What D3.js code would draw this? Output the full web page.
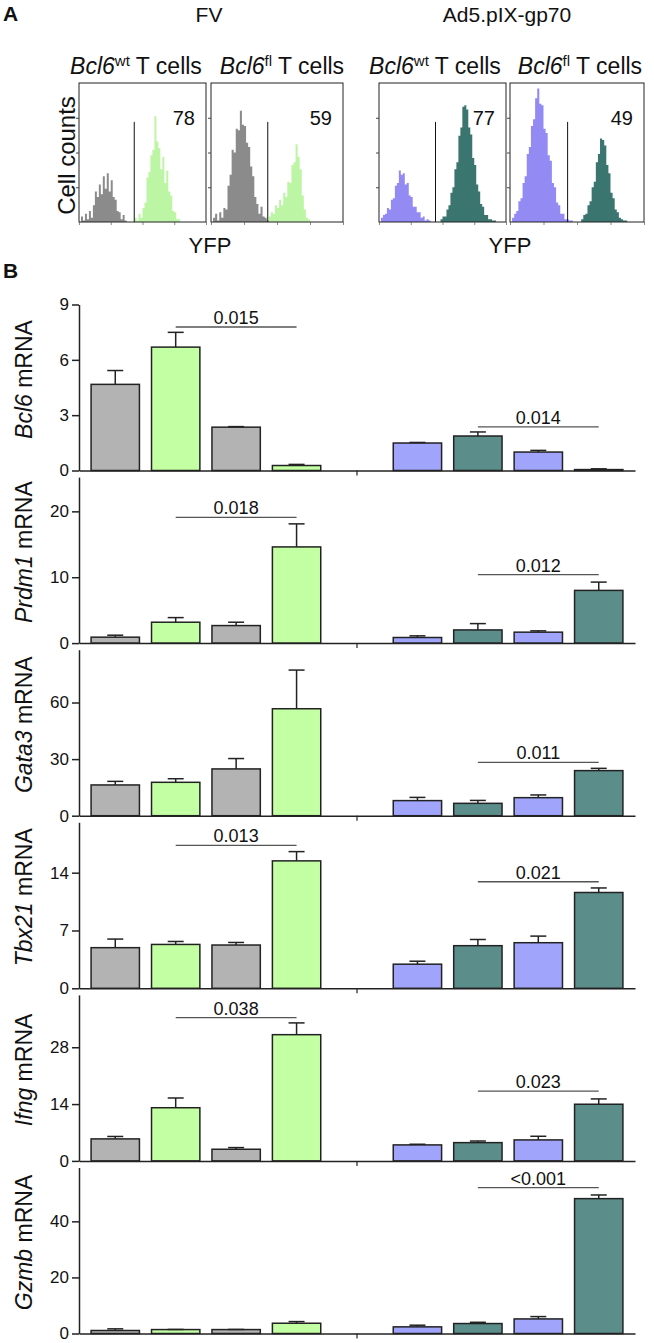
<!DOCTYPE html>
<html><head><meta charset="utf-8">
<script src="https://cdn.jsdelivr.net/npm/d3@7"></script>
<style>body{margin:0;background:#fff} text{font-family:"Liberation Sans",Arial,Helvetica,sans-serif;fill:#111}</style>
</head><body><svg id="c" width="654" height="1343"></svg>
<script>
// ---------------- DATA ----------------
const slots = ["FV wt YFP-","FV wt YFP+","FV fl YFP-","FV fl YFP+","gap","Ad wt YFP-","Ad wt YFP+","Ad fl YFP-","Ad fl YFP+"];
const slotGroup = ["fvNeg","fvPos","fvNeg","fvPos",null,"adNeg","adPos","adNeg","adPos"];
const genes = ["Bcl6","Prdm1","Gata3","Tbx21","Ifng","Gzmb"];
const yMax = [9, 25.2, 88, 20.1, 40.9, 59.2];
const yTicks = [[0,3,6,9],[0,10,20],[0,30,60],[0,7,14],[0,14,28],[0,20,40]];

const meanBcl6  = [4.67, 6.69, 2.35, 0.27, null, 1.49, 1.87, 1.00, 0.05];
const semBcl6   = [0.75, 0.80, 0.03, 0.06, null, 0.03, 0.22, 0.09, 0.04];
const meanPrdm1 = [0.90, 3.17, 2.66, 14.6, null, 0.85, 2.00, 1.66, 8.00];
const semPrdm1  = [0.30, 0.70, 0.51, 3.50, null, 0.25, 0.96, 0.20, 1.26];
const meanGata3 = [16.3, 17.7, 24.8, 56.7, null, 8.00, 6.55, 9.56, 23.9];
const semGata3  = [1.90, 1.90, 5.50, 20.5, null, 1.70, 1.55, 1.44, 1.20];
const meanTbx21 = [4.92, 5.31, 5.24, 15.43, null, 2.92, 5.16, 5.52, 11.6];
const semTbx21  = [1.04, 0.36, 0.31, 1.12, null, 0.36, 0.75, 0.80, 0.55];
const meanIfng  = [5.42, 13.1, 2.87, 31.1, null, 3.94, 4.50, 5.17, 13.96];
const semIfng   = [0.60, 2.40, 0.41, 2.90, null, 0.16, 0.40, 0.90, 1.31];
const meanGzmb  = [1.07, 1.40, 1.40, 3.66, null, 2.37, 3.55, 5.20, 48.1];
const semGzmb   = [0.59, 0.05, 0.05, 0.59, null, 0.59, 0.45, 0.83, 1.30];

const pBcl6  = [{a:1,b:3,y:7.78,t:"0.015"},{a:6,b:8,y:2.36,t:"0.014"}];
const pPrdm1 = [{a:1,b:3,y:19.1,t:"0.018"},{a:6,b:8,y:10.4,t:"0.012"}];
const pGata3 = [{a:6,b:8,y:28.3,t:"0.011"}];
const pTbx21 = [{a:1,b:3,y:17.3,t:"0.013"},{a:6,b:8,y:12.9,t:"0.021"}];
const pIfng  = [{a:1,b:3,y:35.3,t:"0.038"},{a:6,b:8,y:17.2,t:"0.023"}];
const pGzmb  = [{a:6,b:8,y:52.0,t:"<0.001"}];

// Panel A histograms: bin index start + relative counts (0-100) on a 64-bin log-YFP grid
const histTitles = ["wt","fl","wt","fl"];
const histPct = ["78","59","77","49"];
const hFvWtNegStart = 1;
const hFvWtNeg = [4,1,6,2,8,3,12,22,18,27,20,33,24,35,22,30,18,16,8,7,2,5,1];
const hFvWtPosStart = 28;
const hFvWtPos = [3,1,6,3,10,14,32,36,48,52,76,58,53,38,47,28,37,22,19,8,7,2,2];
const hFvFlNegStart = 1;
const hFvFlNeg = [3,6,1,7,3,10,9,26,34,52,50,67,66,80,70,69,57,54,40,33,18,13,6,11,4,3,1];
const hFvFlPosStart = 28;
const hFvFlPos = [4,7,6,12,10,16,12,21,18,29,28,41,43,56,47,38,19,9,3,2];
const hAdWtNegStart = 1;
const hAdWtNeg = [3,5,6,10,9,16,17,26,28,37,34,35,27,28,19,18,11,11,7,7,3,4,1,2,1];
const hAdWtPosStart = 31;
const hAdWtPos = [2,4,4,9,12,21,25,38,43,62,68,83,84,81,68,63,46,41,27,22,13,11,5,5,2,2,1,1];
const hAdFlNegStart = 1;
const hAdFlNeg = [3,6,8,15,17,28,33,49,54,69,74,89,96,85,84,67,64,48,44,28,25,14,12,6,6,2,2,1,1];
const hAdFlPosStart = 34;
const hAdFlPos = [2,5,6,12,15,25,29,43,49,60,59,55,41,35,21,17,9,7,3,2,1,1];

// ---------------- DRAW ----------------
const svg = d3.select("#c");
const colors = {fvNeg:"#b3b3b3", fvPos:"#c3ffa3", adNeg:"#a0a5fb", adPos:"#5b8e8a"};
const histColors = {fvNeg:"#858585", fvPos:"#b8f5a0", adNeg:"#8d84f2", adPos:"#2f6e68"};

// panel labels
svg.append("text").attr("x",3).attr("y",21).attr("font-size",21).attr("font-weight","bold").text("A");
svg.append("text").attr("x",3).attr("y",278).attr("font-size",21).attr("font-weight","bold").text("B");

// ---- Panel A ----
const boxes = [
  {x0:79, x1:206, tx:136, neg:hFvWtNeg, negS:hFvWtNegStart, pos:hFvWtPos, posS:hFvWtPosStart, nc:"fvNeg", pc:"fvPos", gate:0.435},
  {x0:211, x1:343, tx:282, neg:hFvFlNeg, negS:hFvFlNegStart, pos:hFvFlPos, posS:hFvFlPosStart, nc:"fvNeg", pc:"fvPos", gate:0.43},
  {x0:379, x1:506, tx:435, neg:hAdWtNeg, negS:hAdWtNegStart, pos:hAdWtPos, posS:hAdWtPosStart, nc:"adNeg", pc:"adPos", gate:0.445},
  {x0:510, x1:644, tx:580, neg:hAdFlNeg, negS:hAdFlNegStart, pos:hAdFlPos, posS:hAdFlPosStart, nc:"adNeg", pc:"adPos", gate:0.43}
];
const bTop = 83, bBot = 222;
svg.append("text").attr("x",209).attr("y",22).attr("font-size",21).attr("text-anchor","middle").text("FV");
svg.append("text").attr("x",507).attr("y",22).attr("font-size",21).attr("text-anchor","middle").text("Ad5.pIX-gp70");
[210,510].forEach(cx => svg.append("text").attr("x",cx).attr("y",253).attr("font-size",22).attr("text-anchor","middle").text("YFP"));
svg.append("text").attr("transform",`translate(75,${(bTop+bBot)/2+3}) rotate(-90)`).attr("font-size",24).attr("text-anchor","middle").text("Cell counts");

boxes.forEach((b,i) => {
  const g = svg.append("g");
  const xs = d3.scaleLinear().domain([0,64]).range([b.x0,b.x1]);
  const ys = d3.scaleLinear().domain([0,100]).range([bBot,bTop]);
  const area = d3.area().curve(d3.curveStepAfter).x(d=>xs(d[0])).y0(ys(0)).y1(d=>ys(d[1]));
  [[b.neg,b.negS,b.nc],[b.pos,b.posS,b.pc]].forEach(([arr,s,c]) => {
    const pts = arr.map((v,k)=>[s+k,v]); pts.push([s+arr.length,0]);
    g.append("path").attr("d",area(pts)).attr("fill",histColors[c]).attr("opacity",0.95);
  });
  g.append("rect").attr("x",b.x0).attr("y",bTop).attr("width",b.x1-b.x0).attr("height",bBot-bTop)
    .attr("fill","none").attr("stroke","#222").attr("stroke-width",1);
  g.append("g").attr("transform",`translate(${b.x0},0)`)
    .call(d3.axisLeft(ys).tickValues([25,50,75]).tickSize(3).tickFormat(""))
    .call(s=>{s.select(".domain").remove(); s.selectAll("line").attr("stroke","#444");});
  const xl = d3.scaleLog().domain([1,1e4]).range([b.x0,b.x1]);
  g.append("g").attr("transform",`translate(0,${bBot})`)
    .call(d3.axisBottom(xl).ticks(4).tickSize(3).tickFormat(""))
    .call(s=>{s.select(".domain").remove(); s.selectAll("line").attr("stroke","#555").attr("stroke-width",0.7);});
  const gx = b.x0 + b.gate*(b.x1-b.x0);
  g.append("line").attr("x1",gx).attr("x2",gx).attr("y1",ys(72)).attr("y2",bBot).attr("stroke","#111").attr("stroke-width",1);
  g.append("text").attr("x",b.x1-11).attr("y",125).attr("font-size",20).attr("text-anchor","end").text(histPct[i]);
  const t = svg.append("text").attr("x",b.tx).attr("y",74).attr("font-size",23).attr("text-anchor","middle");
  t.append("tspan").attr("font-style","italic").text("Bcl6");
  t.append("tspan").attr("font-size",15).attr("dy",-8).text(histTitles[i]);
  t.append("tspan").attr("dy",8).text(" T cells");
});

// ---- Panel B ----
const means = [meanBcl6,meanPrdm1,meanGata3,meanTbx21,meanIfng,meanGzmb];
const sems  = [semBcl6,semPrdm1,semGata3,semTbx21,semIfng,semGzmb];
const pvals = [pBcl6,pPrdm1,pGata3,pTbx21,pIfng,pGzmb];
const x = d3.scaleBand().domain(slots).range([79,635]).padding(0.2);
const panelTop0 = 304.5, panelStep = 172.6, panelH = 166;

genes.forEach((gene,gi) => {
  const top = panelTop0 + gi*panelStep, zero = top + panelH;
  const y = d3.scaleLinear().domain([0,yMax[gi]]).range([zero,top]);
  const g = svg.append("g");
  slots.forEach((s,i) => {
    const m = means[gi][i]; if (m==null) return;
    g.append("rect").attr("x",x(s)).attr("y",y(m)).attr("width",x.bandwidth()).attr("height",y(0)-y(m))
      .attr("fill",colors[slotGroup[i]]).attr("stroke","#222").attr("stroke-width",1.5);
    const cx = x(s)+x.bandwidth()/2, e = m + sems[gi][i];
    g.append("line").attr("x1",cx).attr("x2",cx).attr("y1",y(m)).attr("y2",y(e)).attr("stroke","#222").attr("stroke-width",1.5);
    g.append("line").attr("x1",cx-8).attr("x2",cx+8).attr("y1",y(e)).attr("y2",y(e)).attr("stroke","#222").attr("stroke-width",1.5);
  });
  g.append("g").attr("transform","translate(79,0)")
    .call(d3.axisLeft(y).tickValues(yTicks[gi]).tickSize(7).tickSizeOuter(0).tickPadding(3))
    .call(s=>{s.select(".domain").attr("stroke","#222").attr("stroke-width",1.5);
              s.selectAll("line").attr("stroke","#222").attr("stroke-width",1.5);
              s.selectAll("text").attr("font-size",17).attr("font-family","Liberation Sans, Arial, sans-serif").attr("fill","#111");});
  g.append("g").attr("transform",`translate(0,${zero})`)
    .call(d3.axisBottom(x).tickValues(["gap"]).tickSize(5).tickSizeOuter(0).tickFormat(""))
    .call(s=>{s.select(".domain").attr("stroke","#222").attr("stroke-width",1.5);
              s.selectAll("line").attr("stroke","#222").attr("stroke-width",1.2);});
  pvals[gi].forEach(p => {
    const xa = x(slots[p.a])+x.bandwidth()/2, xb = x(slots[p.b])+x.bandwidth()/2;
    g.append("line").attr("x1",xa).attr("x2",xb).attr("y1",y(p.y)).attr("y2",y(p.y)).attr("stroke","#555").attr("stroke-width",1.3);
    g.append("text").attr("x",(xa+xb)/2).attr("y",y(p.y)-3).attr("font-size",18).attr("text-anchor","middle").text(p.t);
  });
  const t = svg.append("text").attr("transform",`translate(32,${(top+zero)/2-8}) rotate(-90)`)
    .attr("font-size",23).attr("text-anchor","middle");
  t.append("tspan").attr("font-style","italic").text(gene);
  t.append("tspan").text(" mRNA");
});
</script></body></html>
